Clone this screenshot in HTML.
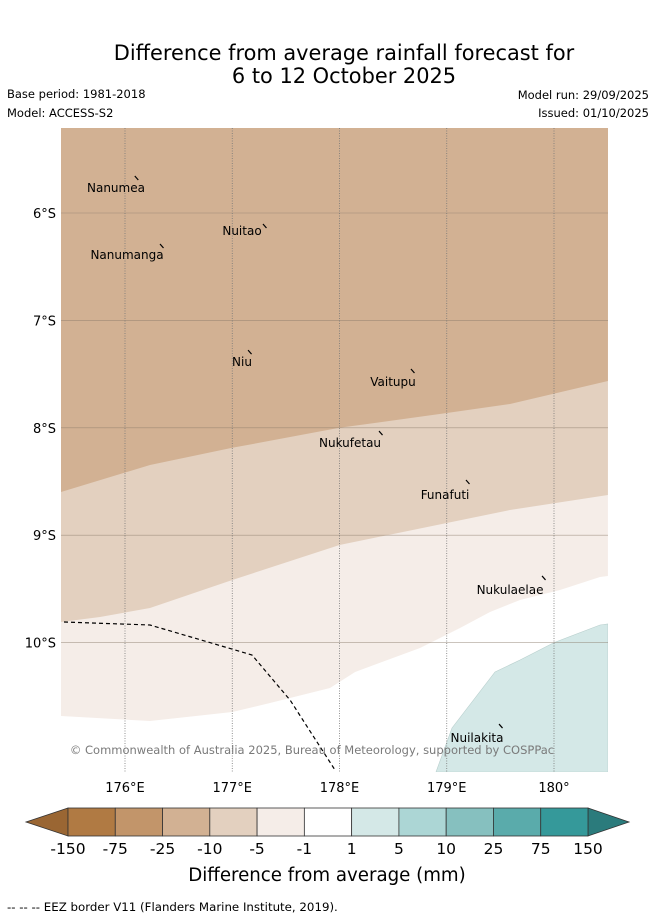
<!DOCTYPE html>
<html><head><meta charset="utf-8">
<style>
body{margin:0;background:#fff;width:655px;height:919px;overflow:hidden;font-family:"Liberation Sans","DejaVu Sans",sans-serif;}
svg text{font-family:"DejaVu Sans","Liberation Sans",sans-serif;}
</style></head>
<body>
<svg id="chart" width="655" height="919" xmlns="http://www.w3.org/2000/svg">
<text x="344" y="60" text-anchor="middle" font-size="20.9">Difference from average rainfall forecast for</text>
<text x="344" y="83" text-anchor="middle" font-size="20.9">6 to 12 October 2025</text>
<text x="7" y="98" font-size="11.5">Base period: 1981-2018</text>
<text x="7" y="117" font-size="11.5">Model: ACCESS-S2</text>
<text x="649" y="99" text-anchor="end" font-size="11.5">Model run: 29/09/2025</text>
<text x="649" y="117" text-anchor="end" font-size="11.5">Issued: 01/10/2025</text>
<g id="map"></g>
<g id="axes"></g>
<g id="cbar"></g>
<text x="327" y="881" text-anchor="middle" font-size="18.2">Difference from average (mm)</text>
<text x="7" y="911" font-size="11.8">-- -- -- EEZ border V11 (Flanders Marine Institute, 2019).</text>
</svg>
<script>
const lonTicks=[176,177,178,179,180];
const latTicks=[6,7,8,9,10];
const lonLabels=["176°E","177°E","178°E","179°E","180°"];
const latLabels=["6°S","7°S","8°S","9°S","10°S"];
const cbLabels=["-150","-75","-25","-10","-5","-1","1","5","10","25","75","150"];
const cbColors=["#b07a43","#c2956a","#d2b193","#e3d0bf","#f5ede8","#ffffff","#d4e8e7","#acd6d5","#86c0bf","#5aabab","#35999a"];
// contour boundaries (lon, lat south)
const b1Lon=[175.403,176.233,177.0,178.0,179.0,179.59,180.503];
const b1Lat=[8.598,8.346,8.186,8.0,7.862,7.778,7.564];
const b2Lon=[175.403,175.767,176.233,177.0,178.0,179.0,179.59,180.503];
const b2Lat=[9.808,9.762,9.678,9.417,9.091,8.886,8.765,8.626];
const b3Lon=[175.403,176.233,177.0,177.352,177.911,178.145,178.751,179.124,179.403,179.683,180.056,180.429,180.503];
const b3Lat=[10.683,10.730,10.646,10.562,10.423,10.274,10.05,9.864,9.715,9.603,9.51,9.389,9.38];
const tLon=[178.9,179.049,179.45,179.683,180.0,180.429,180.503];
const tLat=[11.205,10.795,10.274,10.162,10.0,9.836,9.827];
const eezLon=[175.431,176.233,176.793,177.184,177.539,177.958];
const eezLat=[9.808,9.836,10.0,10.115,10.535,11.186];
const islands=["Nanumea","Nuitao","Nanumanga","Niu","Vaitupu","Nukufetau","Funafuti","Nukulaelae","Nuilakita"];
const islLon=[175.916,177.091,176.019,177.091,178.499,178.098,178.984,179.59,179.282];
const islLat=[5.804,6.205,6.428,7.425,7.611,8.179,8.663,9.547,10.926];
const mkLon=[176.11,177.305,176.345,177.166,178.685,178.387,179.198,179.907,179.506];
const mkLat=[5.674,6.121,6.307,7.295,7.471,8.049,8.505,9.398,10.777];

const X0=61,X1=608,Y0=128,Y1=772;
const xs=lon=>125+(lon-176)*107.25;
const ys=lat=>213+(lat-6)*107.4;
const NS="http://www.w3.org/2000/svg";
function mk(tag,attrs,parent){const e=document.createElementNS(NS,tag);for(const k in attrs)e.setAttribute(k,attrs[k]);parent.appendChild(e);return e;}
const map=document.getElementById('map');
function pts(lo,la){return lo.map((v,i)=>xs(v).toFixed(1)+','+ys(la[i]).toFixed(1));}
const defs=mk('defs',{},map);
const cp=mk('clipPath',{id:'clip'},defs);
mk('rect',{x:X0,y:Y0,width:X1-X0,height:Y1-Y0},cp);
const g=mk('g',{'clip-path':'url(#clip)'},map);
let r=mk('rect',{x:X0,y:Y0,width:X1-X0,height:Y1-Y0,fill:'#ffffff'},g);


function band(lo,la,color,name){
  const p=[X0+','+Y0,X1+','+Y0].concat(pts(lo,la).reverse());
  const e=mk('polygon',{points:p.join(' '),fill:color},g);
  
  
}
band(b3Lon,b3Lat,'#f5ede8','band-minus5-to-minus1');
band(b2Lon,b2Lat,'#e3d0bf','band-minus10-to-minus5');
band(b1Lon,b1Lat,'#d2b193','band-minus25-to-minus10');
{
  const p=pts(tLon,tLat).concat([X1+','+Y1]);
  const e=mk('polygon',{points:p.join(' '),fill:'#d4e8e7',stroke:'#b8cfcd','stroke-width':0.6},g);
  
  
}
latTicks.forEach((t,i)=>{
  const e=mk('line',{x1:X0,x2:X1,y1:ys(t),y2:ys(t),stroke:'#8a7a6a','stroke-width':0.6,'stroke-opacity':0.7},g);
  
  
});
lonTicks.forEach((t,i)=>{
  const e=mk('line',{x1:xs(t),x2:xs(t),y1:Y0,y2:Y1,stroke:'#777','stroke-width':0.8,'stroke-dasharray':'1,1.5'},g);
  
  
});
{
  const e=mk('polyline',{points:pts(eezLon,eezLat).join(' '),fill:'none',stroke:'#000','stroke-width':1.2,'stroke-dasharray':'4,3'},g);
  
  
}
islands.forEach((n,i)=>{
  const mx=xs(mkLon[i]),my=ys(mkLat[i]);
  const m=mk('line',{x1:mx-2,y1:my-2,x2:mx+1.5,y2:my+2,stroke:'#000','stroke-width':1.2},g);
  
  
  const t=mk('text',{x:xs(islLon[i]),y:ys(islLat[i]),'text-anchor':'middle','font-size':12,fill:'#000'},g);
  t.textContent=n;
  
  
});
{
  const t=mk('text',{x:312,y:754,'text-anchor':'middle','font-size':11.5,fill:'#7a7a7a'},g);
  t.textContent='© Commonwealth of Australia 2025, Bureau of Meteorology, supported by COSPPac';
  
  
}
const ax=document.getElementById('axes');
lonTicks.forEach((t,i)=>{
  const e=mk('text',{x:xs(t),y:792,'text-anchor':'middle','font-size':13},ax);
  e.textContent=lonLabels[i];
  
  
});
latTicks.forEach((t,i)=>{
  const e=mk('text',{x:56,y:ys(t)+5,'text-anchor':'end','font-size':13},ax);
  e.textContent=latLabels[i];
  
  
});
const cb=document.getElementById('cbar');
const cx0=68,cx1=588,cy0=808,cy1=836,bw=(cx1-cx0)/cbColors.length;
{
  const e=mk('polygon',{points:`${cx0},${cy0} 26,${(cy0+cy1)/2} ${cx0},${cy1}`,fill:'#9a6633',stroke:'#333','stroke-width':0.8},cb);
  
  
  const f=mk('polygon',{points:`${cx1},${cy0} 629,${(cy0+cy1)/2} ${cx1},${cy1}`,fill:'#2b7b7c',stroke:'#333','stroke-width':0.8},cb);
  
  
}
cbColors.forEach((c,i)=>{
  const e=mk('rect',{x:cx0+i*bw,y:cy0,width:bw,height:cy1-cy0,fill:c,stroke:'#333','stroke-width':0.8},cb);
  
  
});
cbLabels.forEach((l,i)=>{
  const e=mk('text',{x:cx0+i*bw,y:854,'text-anchor':'middle','font-size':15.5},cb);
  e.textContent=l;
  
  
});
</script>
</body></html>
